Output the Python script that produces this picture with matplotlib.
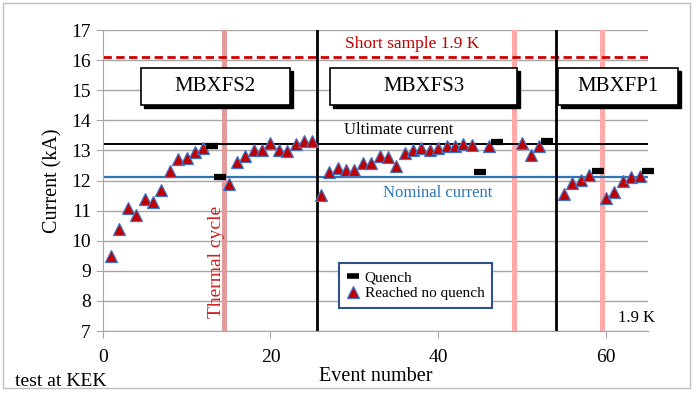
import matplotlib.pyplot as plt
from matplotlib.patches import Rectangle
from matplotlib.lines import Line2D

plt.rcParams['font.family'] = ['Liberation Serif', 'DejaVu Serif']

# training events that reached the target without a quench
ok_event = [1, 2, 3, 4, 5, 6, 7, 8, 9, 10, 11, 12,
            15, 16, 17, 18, 19, 20, 21, 22, 23, 24, 25,
            26, 27, 28, 29, 30, 31, 32, 33, 34, 35, 36, 37, 38, 39, 40,
            41, 42, 43, 44, 46, 50, 51, 52,
            55, 56, 57, 58, 60, 61, 62, 63, 64]
ok_current = [9.5, 10.4, 11.08, 10.85, 11.38, 11.3, 11.7, 12.33, 12.7, 12.75, 12.95, 13.08,
              11.9, 12.6, 12.83, 13.0, 13.02, 13.25, 13.02, 12.97, 13.2, 13.3, 13.3,
              11.52, 12.27, 12.41, 12.35, 12.35, 12.58, 12.57, 12.83, 12.78, 12.47, 12.91, 13.0, 13.07, 13.02, 13.08,
              13.16, 13.16, 13.22, 13.19, 13.13, 13.25, 12.86, 13.13,
              11.56, 11.91, 12.02, 12.19, 11.43, 11.61, 12.0, 12.11, 12.16]

# quenches
q_event = [13, 14, 45, 47, 53, 59, 65]
q_current = [13.13, 12.13, 12.27, 13.27, 13.3, 12.31, 12.3]

short_sample = 16.1
ultimate = 13.2
nominal = 12.1
magnet_split = [25.5, 54]          # change of magnet
thermal_cycles = [14.5, 49, 59.5]
magnets = ['MBXFS2', 'MBXFS3', 'MBXFP1']
magnet_box = [(4.55, 22.3), (27.1, 49.4), (54.3, 68.6)]

fig = plt.figure(figsize=(6.97, 3.99), dpi=100)
ax = fig.add_axes([0.1473, 0.1704, 0.7824, 0.7544])

# outer frame
fig.patches.append(Rectangle((3 / 697, 11 / 399), 687 / 697, 385 / 399, transform=fig.transFigure,
                             fill=False, edgecolor='#BFBFBF', lw=1))

ax.set_xlim(0, 65)
ax.set_ylim(7, 17)
ax.set_xticks([0, 20, 40, 60])
ax.set_yticks(range(7, 18))
ax.yaxis.grid(True, color='#A6A6A6', lw=1)
ax.set_axisbelow(True)
for s in ['top', 'right']:
    ax.spines[s].set_visible(False)
ax.spines['left'].set_color('#A6A6A6')
ax.spines['bottom'].set_color('#A6A6A6')
ax.tick_params(colors='#A6A6A6', labelcolor='black', labelsize=14, length=5, direction='out')
ax.tick_params(axis='x', pad=8)

ax.set_ylabel('Current (kA)', fontsize=14.5, labelpad=6)
ax.set_xlabel('Event number', fontsize=14.5, labelpad=1)

ax.axhline(short_sample, color='#D00000', lw=2, ls=(0, (3, 1.6)), zorder=2)
ax.axhline(ultimate, color='black', lw=1.4, zorder=2)
ax.axhline(nominal, color='#2E75B6', lw=1.6, zorder=2)

for i, x in enumerate(thermal_cycles):
    ax.axvline(x, color='#E39A9C' if i == 0 else '#FFA9A9', lw=3.6, zorder=1)
for x in magnet_split:
    ax.axvline(x, color='black', lw=2, zorder=3)

ax.plot(ok_event, ok_current, ls='none', marker='^', ms=8.5, mfc='#C00000',
        mec='#4472C4', mew=0.9, zorder=5)
ax.plot(q_event, q_current, ls='none', marker='_', ms=9, mew=4.5, color='black',
        zorder=5, clip_on=False)

ax.text(36.9, 16.55, 'Short sample 1.9 K', color='#C00000', fontsize=12.5, ha='center', va='center')
ax.text(35.3, 13.68, 'Ultimate current', color='black', fontsize=12, ha='center', va='center')
ax.text(39.9, 11.58, 'Nominal current', color='#2E75B6', fontsize=12, ha='center', va='center')
ax.text(13.6, 9.3, 'Thermal cycle', color='#D02020', fontsize=14, rotation=90, ha='center', va='center')
ax.text(63.6, 7.42, '1.9 K', fontsize=12, ha='center', va='center')

# magnet name boxes with drop shadow
for name, (x0, x1) in zip(magnets, magnet_box):
    y0, y1 = 14.52, 15.75
    ax.add_patch(Rectangle((x0 + 0.35, y0 - 0.1), x1 - x0, y1 - y0, facecolor='black',
                           edgecolor='black', zorder=6, clip_on=False))
    ax.add_patch(Rectangle((x0, y0), x1 - x0, y1 - y0, facecolor='white',
                           edgecolor='black', lw=1.2, zorder=7, clip_on=False))
    ax.text((x0 + x1) / 2, (y0 + y1) / 2, name, fontsize=15, ha='center', va='center', zorder=8)

handles = [Line2D([], [], ls='none', marker='_', ms=8, mew=4, color='black'),
           Line2D([], [], ls='none', marker='^', ms=8, mfc='#C00000', mec='#4472C4', mew=0.9)]
leg = ax.legend(handles, ['Quench', 'Reached no quench'], loc='upper left',
                bbox_to_anchor=(0.433, 0.226), borderaxespad=0, fontsize=11,
                fancybox=False, handlelength=0.8, handletextpad=0.4, borderpad=0.5,
                labelspacing=0.15, framealpha=1)
leg.get_frame().set_edgecolor('#2F528F')
leg.get_frame().set_linewidth(1.5)
leg.set_zorder(9)

fig.text(15 / 697, 1 - 382 / 399, 'test at KEK', fontsize=14, ha='left', va='center')

fig.savefig('out.png', dpi=100)
